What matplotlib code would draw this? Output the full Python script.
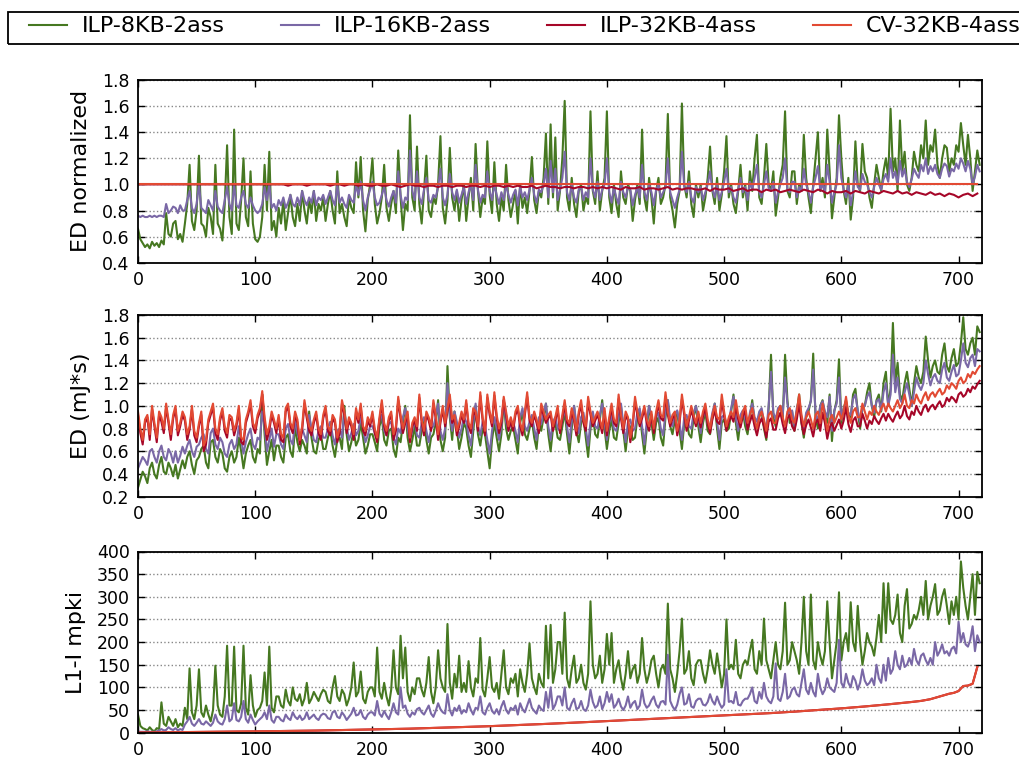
import numpy as np
import matplotlib
matplotlib.use("Agg")
import matplotlib.pyplot as plt
from matplotlib.patches import Rectangle

# ---------------- data ----------------
# Benchmarks 0..719; dense series sampled every 2 benchmarks, smooth ones every 4.
labels = ["ILP-8KB-2ass", "ILP-16KB-2ass", "ILP-32KB-4ass", "CV-32KB-4ass"]
colors = ["#467821", "#7A68A6", "#A60628", "#E24A33"]
n_bench = 720

# Panel 1: ED normalized
edn_ilp8 = [
    0.66, 0.58, 0.55, 0.52, 0.54, 0.51, 0.56, 0.53, 0.55, 0.52, 0.57, 0.54, 0.78, 0.62, 0.60, 0.70, 0.72, 0.58, 0.62, 0.56,
    0.70, 0.85, 1.15, 0.72, 0.65, 0.80, 1.22, 0.70, 0.68, 0.60, 0.82, 0.75, 0.62, 1.15, 0.70, 0.66, 0.57, 0.85, 1.30, 0.75,
    0.62, 1.42, 0.70, 0.65, 0.88, 1.20, 0.75, 0.68, 1.10, 0.70, 0.58, 0.56, 0.60, 0.75, 1.15, 0.80, 1.25, 0.65, 0.72, 0.60,
    0.82, 0.70, 0.88, 0.65, 0.78, 0.92, 0.75, 0.68, 0.85, 0.72, 0.95, 0.80, 0.70, 0.88, 0.78, 0.95, 0.72, 0.85, 0.80, 0.90,
    0.72, 0.85, 0.95, 0.80, 0.70, 1.10, 0.78, 0.85, 0.75, 0.68, 0.90, 0.82, 0.78, 1.17, 0.90, 1.21, 0.80, 0.64, 0.88, 1.00,
    1.20, 0.85, 0.70, 0.78, 0.90, 1.15, 0.82, 0.72, 0.85, 0.95, 0.78, 1.26, 0.90, 0.65, 0.85, 0.80, 1.53, 0.90, 0.80, 1.29,
    0.85, 0.70, 0.95, 1.22, 0.80, 0.75, 0.90, 0.85, 1.00, 1.37, 0.82, 0.70, 0.88, 1.28, 0.90, 0.80, 0.95, 0.72, 0.88, 1.00,
    0.72, 0.90, 1.05, 0.80, 1.31, 0.95, 0.75, 0.90, 0.85, 1.33, 0.92, 0.78, 1.17, 0.85, 0.72, 0.90, 0.80, 1.15, 0.88, 0.75,
    0.85, 0.95, 0.70, 1.00, 0.82, 0.90, 0.78, 0.95, 1.21, 0.88, 0.78, 0.95, 0.90, 1.05, 1.39, 0.85, 1.46, 0.90, 1.36, 0.80,
    0.95, 1.20, 1.64, 0.90, 0.80, 1.05, 0.85, 0.75, 0.95, 1.00, 0.80, 0.90, 0.85, 1.56, 0.95, 0.85, 1.10, 0.80, 0.95, 1.05,
    1.56, 0.90, 0.78, 1.00, 0.85, 0.75, 1.10, 0.90, 0.85, 1.00, 0.95, 0.72, 0.88, 1.00, 0.85, 1.42, 0.90, 0.80, 1.05, 0.90,
    0.70, 0.95, 1.05, 0.85, 0.90, 1.00, 1.54, 0.90, 0.80, 0.67, 0.85, 0.95, 1.62, 1.00, 0.90, 1.10, 0.85, 0.75, 1.00, 0.90,
    1.00, 0.80, 0.90, 1.05, 1.29, 0.95, 0.85, 1.05, 0.80, 0.92, 1.10, 1.37, 0.90, 1.00, 0.85, 0.78, 0.95, 1.15, 0.90, 1.00,
    0.80, 1.10, 0.95, 1.20, 1.38, 0.90, 0.85, 1.05, 1.31, 1.00, 0.95, 1.10, 0.76, 0.90, 1.05, 1.15, 1.56, 0.95, 0.90, 1.10,
    1.10, 0.85, 1.00, 0.95, 1.38, 1.05, 0.90, 0.78, 1.00, 1.20, 1.40, 0.95, 1.05, 0.90, 1.42, 1.10, 0.74, 0.90, 1.05, 1.53,
    1.20, 0.95, 0.85, 1.05, 0.73, 0.90, 1.33, 1.00, 0.95, 1.31, 1.10, 1.05, 0.90, 0.82, 1.00, 1.15, 1.05, 0.95, 1.10, 1.20,
    1.05, 1.58, 1.10, 1.20, 0.95, 1.49, 1.10, 1.25, 1.00, 0.95, 1.05, 1.25, 1.15, 1.10, 1.30, 1.20, 1.49, 1.15, 1.30, 1.25,
    1.42, 1.15, 1.05, 1.20, 1.30, 1.28, 1.10, 1.20, 1.15, 1.30, 1.25, 1.47, 1.30, 1.15, 1.38, 1.20, 0.95, 1.10, 1.26, 1.15]
edn_ilp16 = [
    0.76, 0.75, 0.76, 0.75, 0.75, 0.76, 0.75, 0.76, 0.75, 0.76, 0.76, 0.75, 0.85, 0.78, 0.80, 0.83, 0.82, 0.78, 0.84, 0.80,
    0.80, 0.88, 0.95, 0.82, 0.78, 0.85, 1.00, 0.82, 0.80, 0.78, 0.88, 0.84, 0.80, 0.95, 0.83, 0.80, 0.78, 0.88, 0.98, 0.85,
    0.80, 1.00, 0.84, 0.82, 0.90, 0.95, 0.85, 0.82, 0.90, 0.84, 0.80, 0.78, 0.80, 0.85, 0.98, 0.88, 1.00, 0.82, 0.85, 0.80,
    0.88, 0.84, 0.90, 0.82, 0.86, 0.92, 0.85, 0.83, 0.90, 0.84, 0.95, 0.88, 0.84, 0.90, 0.86, 0.95, 0.84, 0.90, 0.88, 0.92,
    0.85, 0.90, 0.95, 0.88, 0.84, 1.00, 0.86, 0.90, 0.85, 0.82, 0.92, 0.88, 0.86, 1.00, 0.92, 1.02, 0.88, 0.80, 0.90, 0.96,
    1.02, 0.90, 0.84, 0.86, 0.92, 0.98, 0.88, 0.83, 0.90, 0.95, 0.86, 1.10, 0.92, 0.82, 0.90, 0.88, 1.26, 0.95, 0.88, 1.10,
    0.90, 0.85, 0.96, 1.05, 0.88, 0.86, 0.92, 0.90, 0.98, 1.12, 0.90, 0.84, 0.92, 1.08, 0.94, 0.88, 0.96, 0.86, 0.92, 0.98,
    0.85, 0.94, 1.00, 0.88, 1.15, 0.96, 0.86, 0.92, 0.90, 1.10, 0.95, 0.88, 1.00, 0.92, 0.85, 0.94, 0.88, 1.00, 0.92, 0.86,
    0.92, 0.96, 0.84, 0.98, 0.90, 0.94, 0.88, 0.96, 1.05, 0.92, 0.86, 0.96, 0.94, 1.00, 1.12, 0.90, 1.18, 0.94, 1.12, 0.88,
    0.96, 1.05, 1.25, 0.94, 0.88, 1.00, 0.90, 0.86, 0.96, 0.98, 0.88, 0.94, 0.90, 1.20, 0.96, 0.90, 1.02, 0.88, 0.96, 1.00,
    1.20, 0.94, 0.86, 0.98, 0.90, 0.85, 1.02, 0.94, 0.90, 0.98, 0.96, 0.84, 0.92, 0.98, 0.90, 1.15, 0.94, 0.88, 1.00, 0.94,
    0.84, 0.96, 1.00, 0.90, 0.94, 0.98, 1.20, 0.94, 0.88, 0.82, 0.90, 0.96, 1.25, 0.98, 0.94, 1.02, 0.90, 0.86, 0.98, 0.94,
    0.98, 0.88, 0.94, 1.00, 1.10, 0.96, 0.90, 1.00, 0.88, 0.94, 1.02, 1.12, 0.94, 0.98, 0.90, 0.86, 0.96, 1.05, 0.94, 0.98,
    0.88, 1.02, 0.96, 1.05, 1.15, 0.94, 0.90, 1.00, 1.10, 0.97, 0.95, 1.02, 0.86, 0.94, 1.00, 1.05, 1.20, 0.96, 0.94, 1.02,
    1.02, 0.90, 0.98, 0.95, 1.12, 1.00, 0.94, 0.86, 0.98, 1.05, 1.14, 0.96, 1.00, 0.94, 1.15, 1.02, 0.86, 0.94, 1.00, 1.30,
    1.05, 0.96, 0.90, 1.00, 0.84, 0.94, 1.10, 0.98, 0.96, 1.08, 1.02, 1.00, 0.94, 0.90, 0.98, 1.05, 1.00, 0.96, 1.04, 1.08,
    1.02, 1.20, 1.05, 1.10, 1.00, 1.18, 1.06, 1.12, 1.02, 0.98, 1.04, 1.12, 1.08, 1.05, 1.15, 1.10, 1.20, 1.08, 1.14, 1.10,
    1.15, 1.08, 1.05, 1.12, 1.16, 1.14, 1.06, 1.12, 1.10, 1.16, 1.12, 1.20, 1.16, 1.10, 1.18, 1.12, 1.00, 1.06, 1.15, 1.10]
edn_ilp32 = [
    1.00, 1.00, 1.00, 1.00, 1.00, 1.00, 1.00, 1.00, 1.00, 1.00, 1.00, 1.00, 1.00, 1.00, 1.00, 1.00, 1.00, 1.00, 1.00, 1.00,
    1.00, 1.00, 1.00, 1.00, 1.00, 1.00, 1.00, 1.00, 1.00, 1.00, 1.00, 1.00, 0.99, 1.00, 1.00, 1.00, 0.99, 1.00, 1.00, 1.00,
    1.00, 0.99, 1.00, 1.00, 0.99, 1.00, 1.00, 0.99, 1.00, 0.99, 0.99, 1.00, 0.99, 0.99, 1.00, 0.99, 0.98, 0.99, 1.00, 0.99,
    0.99, 0.98, 0.99, 0.99, 0.98, 0.99, 0.99, 0.98, 0.99, 0.99, 0.98, 0.99, 0.99, 0.98, 0.99, 0.98, 0.99, 0.99, 0.98, 0.99,
    0.98, 0.99, 0.98, 0.98, 0.99, 0.97, 0.98, 0.99, 0.98, 0.98, 0.97, 0.98, 0.98, 0.97, 0.98, 0.98, 0.97, 0.98, 0.97, 0.98,
    0.97, 0.98, 0.97, 0.96, 0.98, 0.97, 0.97, 0.98, 0.96, 0.97, 0.97, 0.96, 0.97, 0.98, 0.96, 0.97, 0.96, 0.97, 0.97, 0.96,
    0.96, 0.97, 0.95, 0.97, 0.96, 0.96, 0.97, 0.95, 0.96, 0.97, 0.95, 0.96, 0.96, 0.94, 0.96, 0.95, 0.96, 0.94, 0.95, 0.96,
    0.95, 0.94, 0.96, 0.95, 0.94, 0.96, 0.95, 0.93, 0.95, 0.94, 0.94, 0.95, 0.93, 0.95, 0.94, 0.93, 0.95, 0.94, 0.93, 0.95,
    0.94, 0.93, 0.95, 0.93, 0.94, 0.92, 0.94, 0.93, 0.92, 0.94, 0.92, 0.93, 0.91, 0.93, 0.92, 0.90, 0.92, 0.93, 0.91, 0.93]
edn_cv = [1.0] * 180

# Panel 2: ED (mJ*s)
ed_ilp8 = [
    0.28, 0.35, 0.42, 0.38, 0.32, 0.45, 0.50, 0.40, 0.36, 0.48, 0.55, 0.42, 0.40, 0.50, 0.45, 0.38, 0.48, 0.36, 0.44, 0.52,
    0.45, 0.55, 0.60, 0.48, 0.40, 0.52, 0.55, 0.62, 0.65, 0.50, 0.45, 0.68, 0.70, 0.55, 0.50, 0.62, 0.58, 0.45, 0.42, 0.55,
    0.60, 0.50, 0.55, 0.72, 0.60, 0.45, 0.58, 0.65, 0.70, 0.55, 0.50, 0.62, 0.58, 1.10, 0.75, 0.48, 0.60, 0.70, 0.52, 0.65,
    0.65, 0.55, 0.50, 0.72, 0.75, 0.60, 0.55, 0.82, 0.68, 0.60, 0.70, 0.65, 0.58, 0.95, 0.72, 0.60, 0.58, 0.70, 0.75, 0.62,
    0.62, 0.72, 0.80, 0.65, 0.55, 0.70, 0.72, 0.62, 1.00, 0.75, 0.60, 0.68, 0.78, 0.65, 0.70, 0.85, 0.72, 0.58, 0.65, 0.75,
    0.75, 0.68, 0.60, 0.82, 0.90, 0.70, 0.65, 0.78, 0.80, 0.62, 0.55, 0.72, 0.68, 0.85, 1.00, 0.72, 0.60, 0.70, 0.82, 0.65,
    0.65, 0.78, 0.88, 0.70, 0.58, 0.72, 0.75, 0.85, 1.05, 0.70, 0.60, 0.72, 1.35, 0.90, 0.70, 0.95, 0.80, 0.62, 0.72, 0.85,
    0.80, 0.65, 0.55, 0.78, 1.00, 0.75, 0.65, 0.80, 0.75, 0.60, 0.45, 0.70, 0.85, 0.72, 0.60, 0.75, 1.05, 0.80, 0.70, 0.78,
    0.82, 0.70, 0.58, 0.85, 0.95, 0.75, 0.70, 0.80, 0.88, 0.72, 0.62, 0.85, 0.78, 0.90, 1.02, 0.75, 0.60, 0.80, 0.85, 0.72,
    0.70, 0.82, 0.95, 0.75, 0.58, 0.80, 1.00, 0.78, 0.68, 0.85, 0.90, 0.72, 0.55, 0.80, 0.92, 0.75, 0.72, 0.88, 1.05, 0.80,
    0.62, 0.78, 0.88, 0.72, 0.70, 0.85, 1.00, 0.78, 0.60, 0.80, 0.82, 0.70, 0.72, 0.90, 0.95, 0.75, 0.58, 0.80, 1.00, 0.85,
    0.70, 0.85, 0.90, 0.72, 0.65, 0.90, 1.05, 0.82, 0.75, 0.88, 0.95, 0.78, 0.62, 0.85, 0.88, 0.75, 0.72, 0.90, 1.00, 0.82,
    0.68, 0.85, 0.95, 0.78, 0.75, 0.90, 1.02, 0.80, 0.62, 0.85, 0.88, 0.78, 0.80, 0.95, 1.10, 0.85, 0.70, 0.88, 0.95, 0.82,
    0.75, 0.90, 1.05, 0.85, 0.80, 0.92, 0.95, 0.80, 0.70, 0.98, 1.45, 0.90, 0.82, 0.95, 1.00, 0.88, 1.45, 1.05, 0.85, 0.95,
    0.78, 0.95, 1.10, 0.85, 0.72, 0.90, 0.95, 1.05, 1.46, 0.90, 0.80, 1.00, 1.05, 0.92, 0.85, 1.10, 0.69, 0.95, 1.05, 1.41,
    0.85, 0.98, 1.05, 0.92, 0.90, 1.10, 1.15, 0.95, 0.80, 0.98, 1.00, 1.12, 1.20, 1.00, 0.90, 1.05, 1.10, 0.95, 1.20, 1.30,
    1.00, 1.15, 1.73, 1.20, 1.38, 1.10, 1.05, 1.20, 1.30, 1.15, 1.00, 1.20, 1.35, 1.25, 1.20, 1.30, 1.61, 1.40, 1.25, 1.35,
    1.40, 1.30, 1.28, 1.45, 1.55, 1.35, 1.30, 1.42, 1.50, 1.35, 1.38, 1.55, 1.78, 1.50, 1.45, 1.55, 1.60, 1.45, 1.70, 1.65]
ed_ilp16 = [
    0.45, 0.50, 0.55, 0.52, 0.48, 0.60, 0.62, 0.55, 0.50, 0.60, 0.65, 0.55, 0.52, 0.62, 0.58, 0.50, 0.60, 0.50, 0.56, 0.64,
    0.58, 0.65, 0.70, 0.60, 0.55, 0.64, 0.66, 0.72, 0.75, 0.62, 0.58, 0.76, 0.80, 0.66, 0.62, 0.72, 0.68, 0.58, 0.55, 0.66,
    0.70, 0.62, 0.66, 0.82, 0.70, 0.58, 0.68, 0.75, 0.80, 0.66, 0.62, 0.72, 0.70, 0.95, 0.82, 0.60, 0.70, 0.80, 0.64, 0.75,
    0.75, 0.66, 0.62, 0.80, 0.84, 0.70, 0.66, 0.88, 0.76, 0.70, 0.80, 0.74, 0.68, 0.92, 0.80, 0.70, 0.68, 0.78, 0.82, 0.72,
    0.72, 0.80, 0.86, 0.74, 0.66, 0.78, 0.80, 0.72, 0.95, 0.82, 0.70, 0.76, 0.84, 0.74, 0.78, 0.90, 0.80, 0.68, 0.74, 0.82,
    0.82, 0.76, 0.70, 0.88, 0.92, 0.78, 0.74, 0.84, 0.86, 0.72, 0.66, 0.80, 0.76, 0.90, 0.98, 0.80, 0.70, 0.78, 0.88, 0.74,
    0.72, 0.85, 0.90, 0.78, 0.68, 0.80, 0.82, 0.90, 1.02, 0.78, 0.70, 0.80, 1.20, 0.92, 0.78, 0.95, 0.86, 0.72, 0.80, 0.90,
    0.86, 0.74, 0.65, 0.85, 1.02, 0.82, 0.74, 0.86, 0.82, 0.70, 0.58, 0.78, 0.90, 0.80, 0.70, 0.82, 1.05, 0.86, 0.78, 0.84,
    0.86, 0.78, 0.68, 0.90, 0.98, 0.82, 0.78, 0.86, 0.92, 0.80, 0.70, 0.90, 0.84, 0.94, 1.02, 0.82, 0.70, 0.86, 0.90, 0.80,
    0.78, 0.88, 0.98, 0.82, 0.68, 0.86, 1.00, 0.84, 0.76, 0.90, 0.94, 0.80, 0.65, 0.86, 0.95, 0.82, 0.80, 0.92, 1.02, 0.86,
    0.70, 0.85, 0.92, 0.80, 0.78, 0.90, 1.02, 0.84, 0.68, 0.86, 0.88, 0.78, 0.80, 0.94, 0.98, 0.82, 0.66, 0.86, 1.00, 0.90,
    0.78, 0.90, 0.94, 0.80, 0.74, 0.94, 1.05, 0.88, 0.82, 0.92, 0.96, 0.84, 0.70, 0.90, 0.92, 0.82, 0.80, 0.94, 1.00, 0.88,
    0.76, 0.90, 0.98, 0.84, 0.82, 0.94, 1.02, 0.86, 0.70, 0.90, 0.92, 0.84, 0.86, 0.98, 1.08, 0.90, 0.78, 0.92, 0.96, 0.88,
    0.80, 0.94, 1.02, 0.90, 0.86, 0.95, 0.98, 0.86, 0.78, 1.00, 1.30, 0.94, 0.88, 0.98, 1.00, 0.92, 1.25, 1.02, 0.90, 0.96,
    0.82, 0.98, 1.05, 0.90, 0.80, 0.94, 0.98, 1.04, 1.32, 0.94, 0.86, 1.00, 1.04, 0.95, 0.90, 1.08, 0.78, 0.96, 1.02, 1.25,
    0.88, 0.98, 1.02, 0.94, 0.92, 1.06, 1.10, 0.96, 0.86, 0.98, 1.00, 1.08, 1.12, 1.00, 0.94, 1.04, 1.06, 0.96, 1.12, 1.20,
    1.00, 1.10, 1.45, 1.12, 1.25, 1.06, 1.02, 1.12, 1.20, 1.10, 1.00, 1.12, 1.25, 1.18, 1.14, 1.20, 1.40, 1.28, 1.18, 1.25,
    1.28, 1.22, 1.20, 1.32, 1.38, 1.25, 1.22, 1.30, 1.36, 1.26, 1.28, 1.40, 1.55, 1.38, 1.34, 1.42, 1.45, 1.35, 1.50, 1.48]
ed_ilp32 = [
    0.92, 0.76, 0.66, 0.85, 0.90, 0.70, 0.97, 0.82, 0.68, 0.92, 0.86, 0.76, 0.99, 0.85, 0.70, 0.89, 0.97, 0.74, 0.82, 0.92,
    0.87, 0.70, 0.79, 0.97, 0.74, 0.68, 0.82, 0.92, 0.60, 0.66, 0.85, 0.92, 0.99, 0.76, 0.70, 0.87, 0.95, 0.78, 0.72, 0.89,
    0.87, 0.74, 0.82, 0.97, 0.68, 0.66, 0.85, 0.92, 1.02, 0.82, 0.76, 0.89, 0.95, 1.10, 0.86, 0.70, 0.78, 0.92, 0.85, 0.76,
    0.89, 0.70, 0.68, 0.95, 0.99, 0.82, 0.76, 0.92, 0.85, 0.66, 0.78, 1.02, 0.89, 0.78, 0.74, 0.85, 0.92, 0.76, 0.70, 0.89,
    0.97, 0.78, 0.74, 0.89, 0.85, 0.68, 0.76, 1.02, 0.92, 0.76, 0.87, 0.82, 0.70, 0.95, 0.85, 0.99, 0.78, 0.74, 0.87, 0.82,
    0.92, 0.76, 0.68, 0.87, 1.02, 0.82, 0.74, 0.87, 0.92, 0.70, 0.78, 1.05, 0.89, 0.76, 0.85, 0.92, 0.68, 0.82, 0.87, 0.78,
    1.07, 0.85, 0.74, 0.92, 0.87, 0.78, 1.02, 0.89, 0.70, 0.85, 0.97, 0.82, 0.95, 1.07, 0.85, 0.89, 0.74, 0.82, 0.92, 0.85,
    1.02, 0.82, 0.76, 0.95, 0.92, 0.78, 1.09, 0.87, 0.74, 1.07, 0.92, 0.82, 1.09, 0.89, 0.76, 0.85, 1.05, 0.92, 0.78, 0.87,
    0.78, 0.92, 0.97, 0.82, 0.74, 0.92, 1.08, 0.87, 0.82, 0.92, 0.85, 0.76, 0.98, 0.92, 0.85, 0.89, 0.92, 0.78, 0.87, 0.97,
    0.76, 0.89, 1.01, 0.85, 0.82, 0.95, 0.87, 0.74, 0.92, 1.01, 0.85, 0.78, 1.04, 0.92, 0.82, 0.87, 0.92, 0.85, 0.76, 0.95,
    0.74, 0.87, 0.98, 0.85, 0.82, 1.06, 0.89, 0.76, 0.92, 0.87, 0.68, 0.82, 1.04, 0.92, 0.82, 0.89, 0.97, 0.85, 0.78, 0.92,
    0.76, 0.92, 1.01, 0.89, 0.87, 1.08, 0.92, 0.82, 0.89, 0.92, 0.74, 0.85, 1.06, 0.92, 0.78, 0.87, 0.96, 0.89, 0.82, 0.92,
    0.81, 0.91, 0.98, 0.84, 0.76, 0.88, 0.96, 0.86, 0.84, 1.05, 0.91, 0.78, 0.86, 0.91, 0.86, 1.00, 0.88, 0.81, 0.91, 0.96,
    0.79, 0.86, 0.92, 0.82, 0.74, 0.84, 0.89, 0.82, 0.72, 0.86, 0.89, 0.79, 0.79, 0.89, 0.94, 0.84, 0.76, 0.89, 0.92, 0.82,
    0.78, 0.88, 1.02, 0.85, 0.75, 0.83, 0.88, 0.81, 0.73, 0.85, 0.88, 0.78, 0.94, 0.85, 0.71, 0.81, 0.85, 0.78, 0.83, 0.88,
    0.80, 0.87, 0.99, 0.84, 0.77, 0.87, 0.90, 0.82, 0.82, 0.93, 0.87, 0.80, 0.87, 0.84, 0.91, 0.87, 0.84, 0.89, 0.93, 0.87,
    0.93, 0.89, 0.86, 0.91, 0.95, 0.89, 0.92, 1.00, 0.91, 0.88, 0.95, 0.92, 1.00, 0.95, 0.92, 0.98, 1.01, 0.95, 0.99, 1.01,
    0.97, 1.01, 1.04, 0.99, 1.01, 1.07, 1.04, 1.08, 1.06, 1.03, 1.10, 1.12, 1.08, 1.10, 1.15, 1.12, 1.17, 1.15, 1.19, 1.22]
ed_cv = [
    0.95, 0.80, 0.70, 0.88, 0.92, 0.75, 1.00, 0.85, 0.72, 0.95, 0.90, 0.80, 1.02, 0.88, 0.75, 0.92, 1.00, 0.78, 0.85, 0.95,
    0.90, 0.75, 0.82, 1.00, 0.78, 0.72, 0.85, 0.95, 0.65, 0.70, 0.88, 0.95, 1.02, 0.80, 0.75, 0.90, 0.98, 0.82, 0.76, 0.92,
    0.90, 0.78, 0.85, 1.00, 0.72, 0.70, 0.88, 0.95, 1.05, 0.85, 0.80, 0.92, 0.98, 1.13, 0.90, 0.75, 0.82, 0.95, 0.88, 0.80,
    0.92, 0.75, 0.72, 0.98, 1.02, 0.85, 0.80, 0.95, 0.88, 0.70, 0.82, 1.05, 0.92, 0.82, 0.78, 0.88, 0.95, 0.80, 0.75, 0.92,
    1.00, 0.82, 0.78, 0.92, 0.88, 0.72, 0.80, 1.05, 0.95, 0.80, 0.90, 0.85, 0.75, 0.98, 0.88, 1.02, 0.82, 0.78, 0.90, 0.85,
    0.95, 0.80, 0.72, 0.90, 1.05, 0.85, 0.78, 0.90, 0.95, 0.75, 0.82, 1.08, 0.92, 0.80, 0.88, 0.95, 0.72, 0.85, 0.90, 0.82,
    1.10, 0.88, 0.78, 0.95, 0.90, 0.82, 1.05, 0.92, 0.75, 0.88, 1.00, 0.85, 0.98, 1.10, 0.88, 0.92, 0.78, 0.85, 0.95, 0.88,
    1.05, 0.85, 0.80, 0.98, 0.95, 0.82, 1.12, 0.90, 0.78, 1.10, 0.95, 0.85, 1.12, 0.92, 0.80, 0.88, 1.08, 0.95, 0.82, 0.90,
    0.82, 0.95, 1.00, 0.85, 0.78, 0.95, 1.12, 0.90, 0.85, 0.95, 0.88, 0.80, 1.02, 0.95, 0.88, 0.92, 0.95, 0.82, 0.90, 1.00,
    0.80, 0.92, 1.05, 0.88, 0.85, 0.98, 0.90, 0.78, 0.95, 1.05, 0.88, 0.82, 1.08, 0.95, 0.85, 0.90, 0.95, 0.88, 0.80, 0.98,
    0.78, 0.90, 1.02, 0.88, 0.85, 1.10, 0.92, 0.80, 0.95, 0.90, 0.72, 0.85, 1.08, 0.95, 0.85, 0.92, 1.00, 0.88, 0.82, 0.95,
    0.80, 0.95, 1.05, 0.92, 0.90, 1.12, 0.95, 0.85, 0.92, 0.95, 0.78, 0.88, 1.10, 0.95, 0.82, 0.90, 1.00, 0.92, 0.85, 0.95,
    0.85, 0.95, 1.02, 0.88, 0.80, 0.92, 1.00, 0.90, 0.88, 1.10, 0.95, 0.82, 0.90, 0.95, 0.90, 1.05, 0.92, 0.85, 0.95, 1.00,
    0.85, 0.92, 0.98, 0.88, 0.80, 0.90, 0.95, 0.88, 0.78, 0.92, 0.95, 0.85, 0.85, 0.95, 1.00, 0.90, 0.82, 0.95, 0.98, 0.88,
    0.85, 0.95, 1.10, 0.92, 0.82, 0.90, 0.95, 0.88, 0.80, 0.92, 0.95, 0.85, 1.02, 0.92, 0.78, 0.88, 0.92, 0.85, 0.90, 0.95,
    0.88, 0.95, 1.08, 0.92, 0.85, 0.95, 0.98, 0.90, 0.90, 1.02, 0.95, 0.88, 0.95, 0.92, 1.00, 0.95, 0.92, 0.98, 1.02, 0.95,
    1.02, 0.98, 0.95, 1.00, 1.05, 0.98, 1.02, 1.10, 1.00, 0.98, 1.05, 1.02, 1.10, 1.05, 1.02, 1.08, 1.12, 1.05, 1.10, 1.12,
    1.08, 1.12, 1.15, 1.10, 1.12, 1.18, 1.15, 1.20, 1.18, 1.15, 1.22, 1.25, 1.20, 1.22, 1.28, 1.25, 1.30, 1.28, 1.32, 1.35]

# Panel 3: L1-I misses per kilo-instruction
mpki_ilp8 = [
    40, 15, 10, 8, 5, 12, 6, 3, 10, 8, 67, 20, 15, 35, 25, 15, 30, 12, 20, 15,
    55, 30, 142, 45, 30, 60, 140, 45, 35, 60, 40, 25, 50, 148, 60, 40, 35, 80, 192, 60,
    60, 190, 50, 45, 65, 192, 55, 40, 127, 60, 35, 50, 55, 70, 133, 60, 190, 55, 45, 80,
    80, 60, 55, 95, 70, 60, 100, 75, 70, 85, 60, 75, 110, 65, 75, 90, 80, 70, 85, 95,
    90, 70, 65, 100, 125, 80, 70, 95, 85, 60, 75, 100, 155, 80, 90, 135, 75, 65, 90, 100,
    100, 80, 188, 90, 75, 110, 80, 60, 95, 182, 100, 85, 214, 120, 188, 90, 70, 100, 85, 120,
    120, 95, 80, 110, 167, 90, 65, 100, 182, 120, 100, 90, 240, 110, 75, 130, 100, 170, 90, 110,
    90, 158, 100, 80, 120, 110, 209, 95, 80, 120, 167, 100, 90, 110, 75, 130, 182, 100, 85, 120,
    110, 130, 80, 140, 110, 90, 130, 197, 120, 100, 85, 130, 110, 100, 236, 120, 238, 110, 140, 200,
    200, 130, 265, 120, 100, 140, 170, 110, 120, 150, 110, 95, 130, 290, 150, 120, 130, 170, 110, 140,
    218, 150, 220, 110, 140, 160, 120, 95, 130, 180, 120, 140, 150, 110, 130, 209, 140, 110, 130, 160,
    170, 130, 100, 140, 150, 130, 285, 140, 120, 90, 130, 180, 252, 130, 140, 180, 120, 105, 150, 160,
    160, 130, 110, 140, 182, 150, 130, 175, 140, 100, 130, 250, 140, 150, 140, 205, 130, 120, 150, 160,
    150, 180, 205, 140, 130, 180, 150, 252, 160, 140, 120, 160, 200, 150, 140, 180, 287, 150, 160, 200,
    180, 160, 130, 200, 300, 180, 150, 305, 160, 140, 200, 170, 150, 180, 290, 200, 120, 160, 200, 310,
    160, 200, 220, 180, 288, 200, 180, 280, 200, 150, 180, 220, 200, 190, 170, 210, 260, 200, 330, 220,
    330, 250, 240, 260, 305, 220, 200, 280, 317, 230, 240, 260, 250, 270, 300, 260, 335, 250, 280, 300,
    328, 260, 270, 300, 317, 280, 240, 290, 260, 300, 250, 378, 320, 280, 250, 300, 350, 260, 355, 330]
mpki_ilp16 = [
    3, 2, 2, 2, 3, 2, 2, 2, 3, 5, 8, 5, 6, 12, 8, 6, 10, 5, 8, 6,
    18, 25, 35, 20, 15, 22, 30, 20, 18, 25, 20, 15, 22, 40, 25, 20, 18, 30, 60, 25,
    30, 65, 28, 25, 35, 70, 30, 22, 40, 28, 18, 25, 30, 35, 45, 30, 60, 28, 22, 35,
    35, 28, 25, 40, 32, 28, 45, 35, 30, 38, 28, 32, 45, 30, 35, 40, 32, 28, 38, 42,
    40, 32, 30, 45, 48, 35, 32, 45, 38, 28, 35, 42, 55, 38, 40, 50, 35, 30, 40, 45,
    45, 38, 70, 42, 35, 48, 38, 30, 45, 65, 45, 40, 100, 55, 60, 42, 35, 45, 40, 52,
    55, 45, 40, 50, 60, 42, 35, 48, 65, 52, 45, 42, 85, 50, 38, 55, 48, 60, 42, 50,
    45, 65, 50, 40, 55, 52, 80, 45, 40, 55, 65, 48, 42, 52, 40, 58, 70, 50, 42, 55,
    50, 60, 40, 65, 52, 45, 60, 75, 55, 48, 42, 60, 52, 48, 90, 55, 100, 52, 62, 80,
    80, 60, 100, 55, 50, 65, 75, 52, 55, 70, 52, 48, 60, 95, 68, 55, 60, 80, 52, 65,
    90, 68, 85, 55, 62, 75, 58, 50, 60, 80, 55, 65, 70, 52, 60, 95, 65, 55, 60, 72,
    80, 62, 55, 68, 70, 62, 172, 70, 58, 50, 62, 85, 100, 62, 65, 85, 58, 55, 70, 75,
    75, 62, 60, 68, 85, 70, 62, 80, 65, 55, 62, 140, 68, 70, 65, 90, 62, 60, 70, 75,
    75, 85, 100, 70, 65, 90, 75, 110, 80, 70, 65, 80, 153, 75, 70, 90, 130, 75, 80, 95,
    100, 85, 80, 110, 140, 95, 85, 110, 90, 80, 130, 100, 85, 95, 120, 100, 95, 90, 110, 205,
    110, 100, 130, 110, 100, 125, 115, 95, 110, 140, 115, 105, 110, 120, 105, 150, 120, 110, 150, 115,
    165, 130, 140, 180, 150, 140, 170, 145, 150, 165, 150, 185, 160, 150, 170, 175, 160, 150, 165, 150,
    200, 170, 180, 195, 175, 180, 170, 185, 190, 175, 245, 200, 220, 195, 190, 205, 235, 180, 215, 200]
mpki_cv = [
    0.3, 0.4, 0.5, 0.6, 0.7, 0.8, 0.9, 1.0, 1.1, 1.2, 1.3, 1.4, 1.5, 1.6, 1.7, 1.8, 2.0, 2.1, 2.2, 2.4,
    2.5, 2.6, 2.7, 2.8, 2.9, 3.0, 3.1, 3.2, 3.3, 3.5, 3.6, 3.7, 3.9, 4.0, 4.1, 4.3, 4.4, 4.6, 4.7, 4.9,
    5.0, 5.2, 5.4, 5.6, 5.8, 6.0, 6.2, 6.4, 6.6, 6.8, 7.0, 7.2, 7.4, 7.6, 7.9, 8.1, 8.4, 8.6, 8.9, 9.3,
    9.6, 9.9, 10.2, 10.5, 10.8, 11.1, 11.4, 11.7, 12.0, 12.3, 12.6, 13.0, 13.3, 13.7, 14.0, 14.4, 14.8, 15.2, 15.6, 16.0,
    16.4, 16.8, 17.2, 17.7, 18.1, 18.5, 19.0, 19.4, 19.9, 20.4, 20.8, 21.3, 21.7, 22.2, 22.6, 23.1, 23.6, 24.1, 24.6, 25.1,
    25.6, 26.1, 26.6, 27.1, 27.6, 28.1, 28.6, 29.1, 29.6, 30.1, 30.6, 31.1, 31.6, 32.1, 32.6, 33.1, 33.6, 34.1, 34.6, 35.1,
    35.6, 36.1, 36.6, 37.1, 37.6, 38.1, 38.6, 39.1, 39.6, 40.1, 40.6, 41.1, 41.6, 42.1, 42.7, 43.3, 43.9, 44.5, 45.1, 45.8,
    46.5, 47.2, 47.9, 48.6, 49.3, 50.0, 50.7, 51.4, 52.1, 52.9, 53.7, 54.5, 55.3, 56.1, 57.0, 57.9, 58.8, 59.7, 60.6, 61.6,
    62.6, 63.6, 64.6, 65.6, 66.7, 67.8, 69.0, 70.2, 72.0, 74.0, 77.0, 80.0, 83.0, 86.0, 88.0, 92.0, 103.0, 104.0, 108.0, 145.0]
mpki_ilp32 = mpki_cv  # same 32KB-4ass cache -> identical miss rate

panels = [
    ([edn_ilp8, edn_ilp16, edn_ilp32, edn_cv], "ED normalized", (0.4, 1.8), np.arange(0.4, 1.81, 0.2)),
    ([ed_ilp8, ed_ilp16, ed_ilp32, ed_cv], "ED (mJ*s)", (0.2, 1.8), np.arange(0.2, 1.81, 0.2)),
    ([mpki_ilp8, mpki_ilp16, mpki_ilp32, mpki_cv], "L1-I mpki", (0, 400), np.arange(0, 401, 50)),
]

# ---------------- figure ----------------
W, H = 1019, 758
fig = plt.figure(figsize=(W / 100, H / 100), dpi=100)
fig.patch.set_facecolor("white")

boxes = [(80, 262.7), (315, 496.7), (551.5, 732.7)]
left, right = 138, 982

handles = None
for (series, ylabel, ylim, yticks), (top, bot) in zip(panels, boxes):
    ax = fig.add_axes([left / W, 1 - bot / H, (right - left) / W, (bot - top) / H])
    hs = []
    for vals, c, lab in zip(series, colors, labels):
        xs = np.arange(len(vals)) * (n_bench // len(vals))
        h, = ax.plot(xs, vals, color=c, lw=1.5, label=lab)
        hs.append(h)
    if handles is None:
        handles = hs
    ax.set_xlim(0, 720)
    ax.set_ylim(*ylim)
    ax.set_xticks(np.arange(0, 701, 100))
    ax.set_yticks(yticks)
    if ylim[1] > 10:
        ax.set_yticklabels([f"{int(v)}" for v in yticks])
    else:
        ax.set_yticklabels([f"{v:.1f}" for v in yticks])
    ax.tick_params(direction="in", top=True, right=True, length=5, width=1,
                   labelsize=12.5, pad=6)
    ax.yaxis.grid(True, linestyle=":", color="#888888", linewidth=1)
    ax.set_axisbelow(True)
    for s in ax.spines.values():
        s.set_linewidth(1.3)
    ax.set_ylabel(ylabel, fontsize=16, labelpad=8)

# Legend frame running off the right edge, as in the original
fig.patches.append(Rectangle((8 / W, 1 - 44 / H), 1100 / W, 32 / H,
                             transform=fig.transFigure, fill=False,
                             edgecolor="black", linewidth=1.3))
leg = fig.legend(handles, labels, loc="upper left", ncol=4, mode="expand",
                 bbox_to_anchor=(25 / W, 1 - 44 / H, 1000 / W, 32 / H),
                 borderaxespad=0, frameon=False, fontsize=16,
                 handlelength=1.7, handletextpad=0.65, borderpad=0.2)

fig.savefig("out.png", dpi=100)
